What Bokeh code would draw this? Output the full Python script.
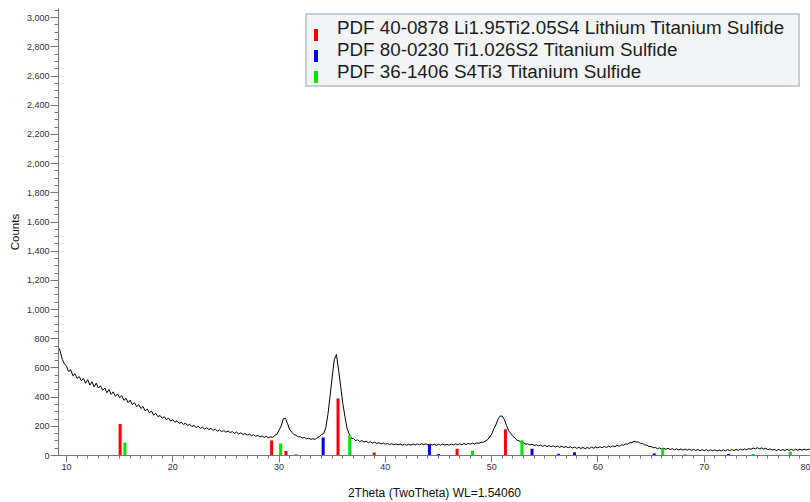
import numpy as np
from bokeh.plotting import figure
from bokeh.models import (SingleIntervalTicker, NumeralTickFormatter, Legend,
                          LegendItem)
from bokeh.core.properties import value
from bokeh.embed import file_html
from bokeh.resources import INLINE

# ---- measured diffraction trace (counts every 0.2 deg, starting at 9.2 deg) ----
theta_start = 9.2
theta_step = 0.2
counts = [
    745, 718, 660, 628, 612, 575, 588, 546, 560, 528,
    541, 512, 528, 495, 520, 482, 505, 470, 496, 462,
    478, 447, 462, 430, 452, 418, 436, 405, 422, 396,
    410, 378, 392, 362, 380, 348, 362, 335, 348, 322,
    336, 306, 318, 292, 305, 276, 290, 266, 274, 255,
    266, 246, 256, 236, 246, 228, 238, 220, 228, 213,
    222, 205, 214, 198, 206, 192, 200, 186, 194, 181,
    190, 178, 186, 172, 180, 167, 176, 163, 171, 160,
    168, 157, 164, 152, 160, 148, 156, 144, 151, 140,
    147, 136, 142, 131, 138, 127, 134, 124, 131, 122,
    128, 124, 138, 146, 174, 203, 252, 255, 218, 178,
    160, 143, 139, 128, 129, 120, 123, 115, 119, 110,
    116, 109, 124, 128, 143, 150, 192, 282, 408, 538,
    658, 692, 586, 474, 356, 266, 186, 146, 118, 116,
    103, 107, 96, 102, 92, 98, 88, 94, 85, 91,
    82, 89, 79, 86, 77, 83, 75, 81, 73, 80,
    72, 79, 71, 78, 70, 77, 71, 79, 72, 80,
    73, 81, 74, 80, 73, 79, 71, 77, 70, 77,
    71, 78, 70, 77, 71, 79, 72, 80, 73, 81,
    74, 82, 75, 83, 77, 85, 79, 87, 83, 91,
    90, 99, 107, 126, 146, 182, 210, 250, 270, 270,
    246, 207, 170, 152, 132, 120, 104, 100, 88, 88,
    78, 80, 72, 78, 68, 74, 65, 72, 63, 70,
    61, 68, 60, 67, 58, 65, 56, 64, 55, 62,
    53, 60, 51, 58, 49, 56, 48, 55, 47, 55,
    48, 57, 50, 59, 52, 60, 53, 62, 55, 64,
    57, 66, 60, 69, 64, 73, 70, 79, 78, 88,
    88, 98, 92, 93, 83, 83, 72, 72, 61, 62,
    53, 55, 47, 52, 44, 50, 42, 49, 41, 47,
    39, 46, 38, 45, 37, 44, 36, 43, 35, 42,
    34, 41, 33, 40, 33, 40, 32, 39, 32, 39,
    31, 38, 31, 39, 32, 40, 33, 41, 34, 42,
    35, 43, 37, 45, 39, 48, 42, 51, 45, 53,
    46, 52, 44, 49, 40, 45, 37, 42, 34, 41,
    34, 41, 34, 42, 35, 42, 35, 43, 36, 43,
    36, 44, 37, 44, 37, 43,
]
two_theta = theta_start + theta_step * np.arange(len(counts))

# ---- reference patterns (stick positions / heights) ----
ref_names = [
    "PDF 40-0878 Li1.95Ti2.05S4 Lithium Titanium Sulfide",
    "PDF 80-0230 Ti1.026S2 Titanium Sulfide",
    "PDF 36-1406 S4Ti3 Titanium Sulfide",
]
ref_colors = ["#ff0000", "#0000ff", "#00e400"]
red_pos = [15.05, 29.3, 30.65, 35.55, 38.95, 46.75, 51.3]
red_int = [215, 103, 30, 390, 20, 46, 180]
blue_pos = [34.15, 44.15, 45.0, 53.8, 56.3, 57.8, 65.3, 72.3]
blue_int = [123, 72, 10, 46, 12, 22, 14, 10]
green_pos = [15.5, 30.15, 31.6, 36.65, 48.2, 52.85, 66.1, 68.2, 74.6, 78.1]
green_int = [89, 82, 8, 137, 32, 105, 48, 8, 10, 25]
ref_pos = [red_pos, blue_pos, green_pos]
ref_int = [red_int, blue_int, green_int]

FONT = "Liberation Sans"
LEG_FONT_SIZE = "18.8px"
W, H = 810, 502
BL, BB, BT = 58, 46, 8          # borders (left, bottom, top)

p = figure(width=W, height=H, x_range=(9.25, 80.0), y_range=(0, 3063),
           output_backend="svg", toolbar_location=None, title=None,
           min_border_left=BL, min_border_right=0, min_border_top=BT,
           min_border_bottom=BB, outline_line_color=None,
           background_fill_color="white")
p.xgrid.visible = False
p.ygrid.visible = False

p.line(two_theta, counts, line_color="black", line_width=1)

text_items, mark_items = [], []
for name, pos, inten, col in zip(ref_names, ref_pos, ref_int, ref_colors):
    p.segment(x0=pos, y0=[0] * len(pos), x1=pos, y1=inten,
              line_color=col, line_width=3, line_cap="butt")
    blank = p.vbar(x=[np.nan], top=[np.nan], width=0.1,
                   fill_color=col, fill_alpha=0, line_alpha=0)
    bar = p.vbar(x=[np.nan], top=[np.nan], width=0.1,
                 fill_color=col, line_color=None)
    text_items.append(LegendItem(label=value(name), renderers=[blank]))
    mark_items.append(LegendItem(label=value(" "), renderers=[bar]))

leg_bottom = (H - BB) - 88
# legend box with the texts
legend = Legend(items=text_items, location=(305 - BL, leg_bottom), padding=2,
                spacing=0, margin=0, label_height=21, glyph_width=20,
                glyph_height=14, label_standoff=8, label_width=459,
                label_text_font=FONT, label_text_font_size=LEG_FONT_SIZE,
                label_text_color="#1e1e1e",
                background_fill_color="#f3f4f6", background_fill_alpha=1.0,
                border_line_color="#97a6bd", border_line_width=2)
p.add_layout(legend)
# coloured short vertical bars, same row layout, drawn on top
marks = Legend(items=mark_items, location=(315 - 2 - BL, leg_bottom), padding=2,
               spacing=0, margin=0, label_height=21, glyph_width=5,
               glyph_height=15, label_standoff=0, label_width=1,
               label_text_font=FONT, label_text_font_size=LEG_FONT_SIZE,
               background_fill_alpha=0, border_line_color=None)
p.add_layout(marks)

# axes
p.xaxis.ticker = SingleIntervalTicker(interval=10, num_minor_ticks=10)
p.yaxis.ticker = SingleIntervalTicker(interval=200, num_minor_ticks=4)
p.yaxis.formatter = NumeralTickFormatter(format="0,0")
p.xaxis.axis_label = "2Theta (TwoTheta) WL=1.54060"
p.yaxis.axis_label = "Counts"

for ax in (p.xaxis[0], p.yaxis[0]):
    ax.axis_line_color = "#777777"
    ax.major_tick_line_color = "#777777"
    ax.minor_tick_line_color = "#777777"
    ax.major_tick_in = 0
    ax.minor_tick_in = 0
    ax.major_label_text_font = FONT
    ax.major_label_text_font_size = "9px"
    ax.major_label_text_color = "#333333"
    ax.axis_label_text_font = FONT
    ax.axis_label_text_font_style = "normal"
    ax.axis_label_text_color = "#111111"
    ax.major_label_standoff = 1

p.xaxis.major_tick_out = 7
p.xaxis.minor_tick_out = 3
p.xaxis.axis_label_text_font_size = "12px"
p.xaxis.axis_label_standoff = 13
p.yaxis.major_tick_out = 8
p.yaxis.minor_tick_out = 4
p.yaxis.axis_label_text_font_size = "11.5px"
p.yaxis.axis_label_standoff = 3

open("out.html", "w").write(file_html(p, INLINE))
